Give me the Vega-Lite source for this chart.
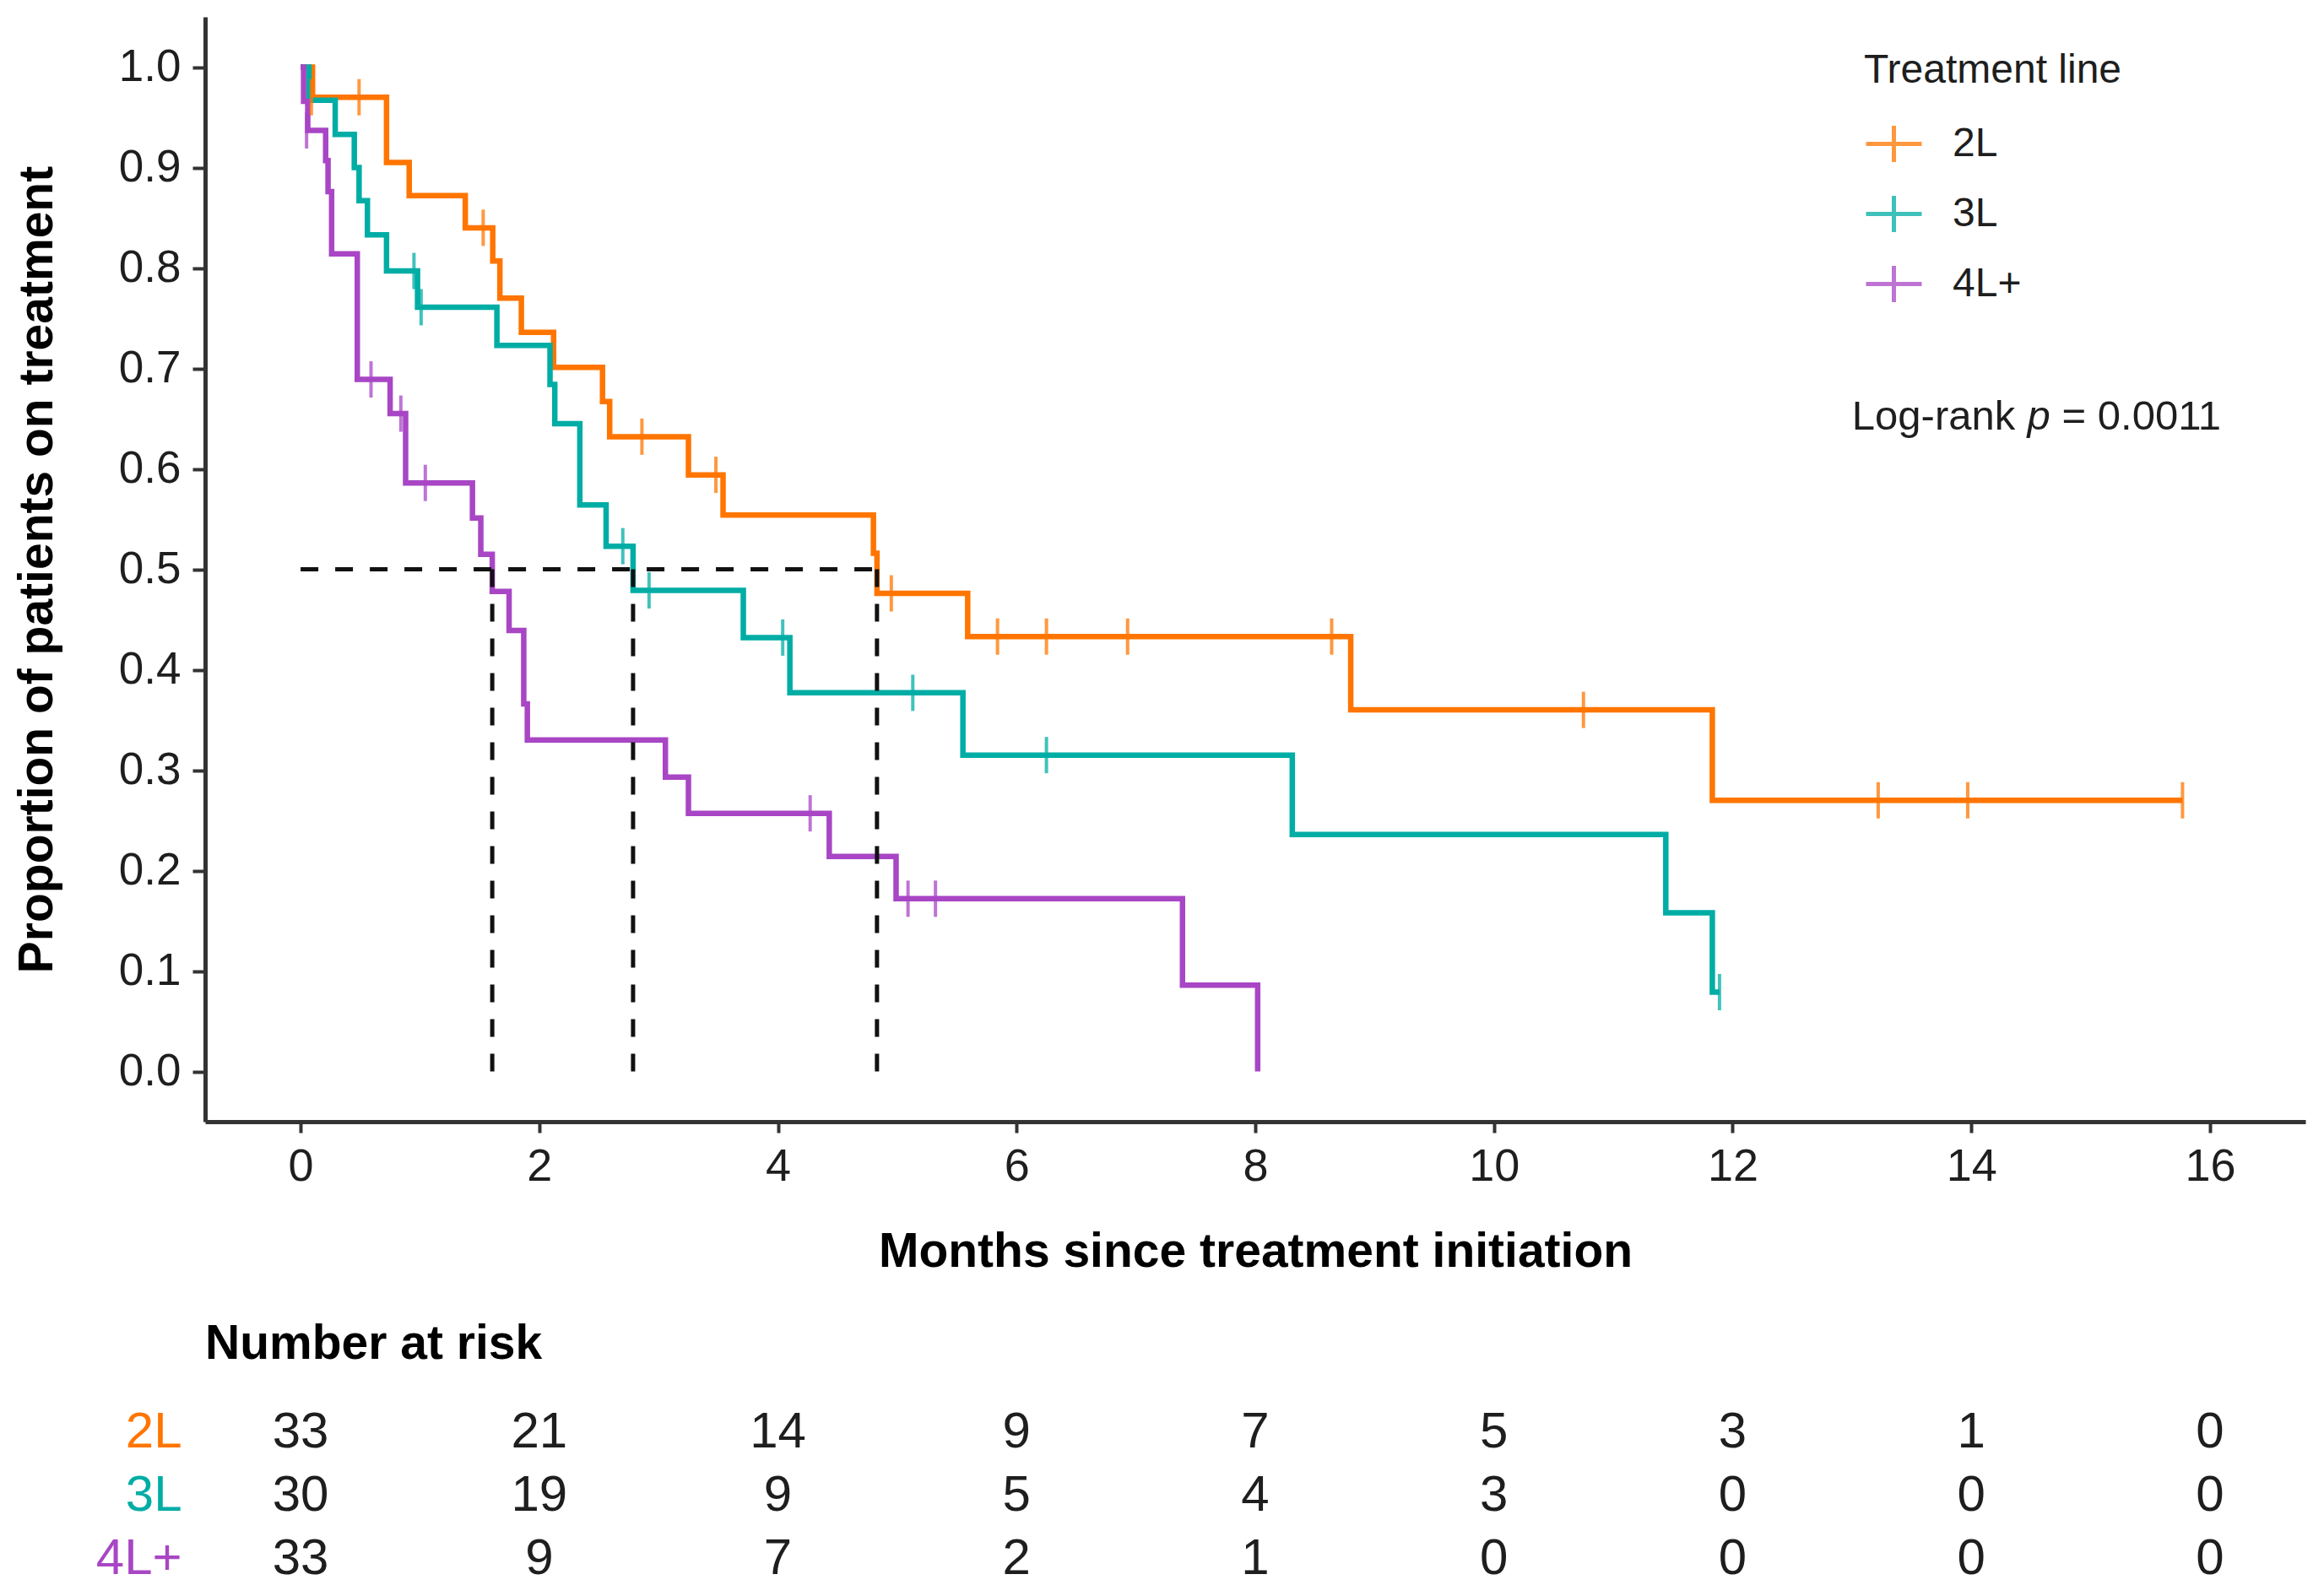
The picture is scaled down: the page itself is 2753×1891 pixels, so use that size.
{
  "$schema": "https://vega.github.io/schema/vega-lite/v6.json",
  "background": "white",
  "padding": {"left": 15, "top": 20, "right": 5, "bottom": 5},
  "bounds": "flush",
  "spacing": 330,
  "config": {
    "font": "Liberation Sans",
    "view": {"stroke": null},
    "axis": {"grid": false}
  },
  "datasets": {
    "km": [
      {"line": "2L", "t": 0, "s": 1},
      {"line": "2L", "t": 0.10, "s": 0.970},
      {"line": "2L", "t": 0.72, "s": 0.905},
      {"line": "2L", "t": 0.91, "s": 0.872},
      {"line": "2L", "t": 1.38, "s": 0.840},
      {"line": "2L", "t": 1.61, "s": 0.807},
      {"line": "2L", "t": 1.67, "s": 0.770},
      {"line": "2L", "t": 1.85, "s": 0.736},
      {"line": "2L", "t": 2.12, "s": 0.701},
      {"line": "2L", "t": 2.53, "s": 0.667},
      {"line": "2L", "t": 2.59, "s": 0.632},
      {"line": "2L", "t": 3.25, "s": 0.594},
      {"line": "2L", "t": 3.54, "s": 0.554},
      {"line": "2L", "t": 4.80, "s": 0.516},
      {"line": "2L", "t": 4.83, "s": 0.476},
      {"line": "2L", "t": 5.59, "s": 0.433},
      {"line": "2L", "t": 8.80, "s": 0.360},
      {"line": "2L", "t": 11.83, "s": 0.270},
      {"line": "2L", "t": 15.77, "s": 0.270},
      {"line": "3L", "t": 0, "s": 1},
      {"line": "3L", "t": 0.07, "s": 0.967},
      {"line": "3L", "t": 0.29, "s": 0.933},
      {"line": "3L", "t": 0.45, "s": 0.900},
      {"line": "3L", "t": 0.49, "s": 0.867},
      {"line": "3L", "t": 0.56, "s": 0.833},
      {"line": "3L", "t": 0.72, "s": 0.797},
      {"line": "3L", "t": 0.98, "s": 0.761},
      {"line": "3L", "t": 1.645, "s": 0.723},
      {"line": "3L", "t": 2.09, "s": 0.684},
      {"line": "3L", "t": 2.13, "s": 0.645},
      {"line": "3L", "t": 2.34, "s": 0.564},
      {"line": "3L", "t": 2.56, "s": 0.523},
      {"line": "3L", "t": 2.786, "s": 0.479},
      {"line": "3L", "t": 3.71, "s": 0.432},
      {"line": "3L", "t": 4.10, "s": 0.377},
      {"line": "3L", "t": 5.55, "s": 0.315},
      {"line": "3L", "t": 8.31, "s": 0.236},
      {"line": "3L", "t": 11.44, "s": 0.158},
      {"line": "3L", "t": 11.83, "s": 0.079},
      {"line": "3L", "t": 11.89, "s": 0.079},
      {"line": "4L+", "t": 0, "s": 1},
      {"line": "4L+", "t": 0.025, "s": 0.966},
      {"line": "4L+", "t": 0.06, "s": 0.937},
      {"line": "4L+", "t": 0.21, "s": 0.907},
      {"line": "4L+", "t": 0.23, "s": 0.876},
      {"line": "4L+", "t": 0.26, "s": 0.814},
      {"line": "4L+", "t": 0.475, "s": 0.689},
      {"line": "4L+", "t": 0.75, "s": 0.655},
      {"line": "4L+", "t": 0.88, "s": 0.586},
      {"line": "4L+", "t": 1.44, "s": 0.551},
      {"line": "4L+", "t": 1.51, "s": 0.515},
      {"line": "4L+", "t": 1.606, "s": 0.478},
      {"line": "4L+", "t": 1.747, "s": 0.439},
      {"line": "4L+", "t": 1.87, "s": 0.366},
      {"line": "4L+", "t": 1.90, "s": 0.330},
      {"line": "4L+", "t": 3.057, "s": 0.293},
      {"line": "4L+", "t": 3.25, "s": 0.257},
      {"line": "4L+", "t": 4.43, "s": 0.214},
      {"line": "4L+", "t": 4.99, "s": 0.172},
      {"line": "4L+", "t": 7.39, "s": 0.086},
      {"line": "4L+", "t": 8.02, "s": 0}
    ],
    "censor": [
      {"line": "2L", "t": 0.09, "s": 0.970},
      {"line": "2L", "t": 0.49, "s": 0.970},
      {"line": "2L", "t": 1.53, "s": 0.840},
      {"line": "2L", "t": 2.86, "s": 0.632},
      {"line": "2L", "t": 3.48, "s": 0.594},
      {"line": "2L", "t": 4.95, "s": 0.476},
      {"line": "2L", "t": 5.84, "s": 0.433},
      {"line": "2L", "t": 6.25, "s": 0.433},
      {"line": "2L", "t": 6.93, "s": 0.433},
      {"line": "2L", "t": 8.64, "s": 0.433},
      {"line": "2L", "t": 10.75, "s": 0.360},
      {"line": "2L", "t": 13.22, "s": 0.270},
      {"line": "2L", "t": 13.97, "s": 0.270},
      {"line": "2L", "t": 15.77, "s": 0.270},
      {"line": "3L", "t": 0.95, "s": 0.797},
      {"line": "3L", "t": 1.01, "s": 0.761},
      {"line": "3L", "t": 2.70, "s": 0.523},
      {"line": "3L", "t": 2.92, "s": 0.479},
      {"line": "3L", "t": 4.04, "s": 0.432},
      {"line": "3L", "t": 5.13, "s": 0.377},
      {"line": "3L", "t": 6.25, "s": 0.315},
      {"line": "3L", "t": 11.89, "s": 0.079},
      {"line": "4L+", "t": 0.05, "s": 0.937},
      {"line": "4L+", "t": 0.59, "s": 0.689},
      {"line": "4L+", "t": 0.84, "s": 0.655},
      {"line": "4L+", "t": 1.045, "s": 0.586},
      {"line": "4L+", "t": 4.27, "s": 0.257},
      {"line": "4L+", "t": 5.09, "s": 0.172},
      {"line": "4L+", "t": 5.32, "s": 0.172}
    ],
    "medianlines": [
      {"seg": "h", "t": 0, "s": 0.5},
      {"seg": "h", "t": 4.83, "s": 0.5},
      {"seg": "4L+", "t": 1.606, "s": 0.5},
      {"seg": "4L+", "t": 1.606, "s": 0},
      {"seg": "3L", "t": 2.786, "s": 0.5},
      {"seg": "3L", "t": 2.786, "s": 0},
      {"seg": "2L", "t": 4.83, "s": 0.5},
      {"seg": "2L", "t": 4.83, "s": 0}
    ],
    "annot": [
      {"label": "Log-rank", "t": 13.0, "s": 0.639, "italic": false},
      {"label": "p", "t": 14.47, "s": 0.639, "italic": true},
      {"label": "= 0.0011", "t": 14.76, "s": 0.639, "italic": false}
    ],
    "rows": [
      {"line": "2L", "t": -0.994}, {"line": "3L", "t": -0.994}, {"line": "4L+", "t": -0.994}
    ],
    "risk": [
      {"line": "2L", "t": 0, "n": 33}, {"line": "2L", "t": 2, "n": 21}, {"line": "2L", "t": 4, "n": 14},
      {"line": "2L", "t": 6, "n": 9}, {"line": "2L", "t": 8, "n": 7}, {"line": "2L", "t": 10, "n": 5},
      {"line": "2L", "t": 12, "n": 3}, {"line": "2L", "t": 14, "n": 1}, {"line": "2L", "t": 16, "n": 0},
      {"line": "3L", "t": 0, "n": 30}, {"line": "3L", "t": 2, "n": 19}, {"line": "3L", "t": 4, "n": 9},
      {"line": "3L", "t": 6, "n": 5}, {"line": "3L", "t": 8, "n": 4}, {"line": "3L", "t": 10, "n": 3},
      {"line": "3L", "t": 12, "n": 0}, {"line": "3L", "t": 14, "n": 0}, {"line": "3L", "t": 16, "n": 0},
      {"line": "4L+", "t": 0, "n": 33}, {"line": "4L+", "t": 2, "n": 9}, {"line": "4L+", "t": 4, "n": 7},
      {"line": "4L+", "t": 6, "n": 2}, {"line": "4L+", "t": 8, "n": 1}, {"line": "4L+", "t": 10, "n": 0},
      {"line": "4L+", "t": 12, "n": 0}, {"line": "4L+", "t": 14, "n": 0}, {"line": "4L+", "t": 16, "n": 0}
    ]
  },
  "vconcat": [
    {
      "width": 2488,
      "height": 1309,
      "layer": [
        {
          "data": {"name": "km"},
          "mark": {"type": "line", "interpolate": "step-after", "strokeWidth": 6.5},
          "encoding": {
            "x": {
              "field": "t", "type": "quantitative",
              "scale": {"domain": [-0.8, 16.8], "nice": false, "zero": false},
              "axis": {
                "values": [0, 2, 4, 6, 8, 10, 12, 14, 16],
                "format": "d",
                "title": "Months since treatment initiation",
                "titleFontSize": 57, "titleFontWeight": "bold", "titleColor": "#000000",
                "titleBaseline": "alphabetic", "titlePadding": 91,
                "labelFontSize": 54, "labelColor": "#1e1e1e", "labelPadding": 13, "labelFlush": false,
                "domainWidth": 5, "domainColor": "#333333",
                "tickWidth": 4, "tickSize": 13, "tickColor": "#333333"
              }
            },
            "y": {
              "field": "s", "type": "quantitative",
              "scale": {"domain": [-0.05, 1.05], "nice": false, "zero": false},
              "axis": {
                "values": [0, 0.1, 0.2, 0.3, 0.4, 0.5, 0.6, 0.7, 0.8, 0.9, 1.0],
                "format": ".1f",
                "title": "Proportion of patients on treatment",
                "titleFontSize": 57, "titleFontWeight": "bold", "titleColor": "#000000",
                "titleBaseline": "alphabetic", "titlePadding": 79,
                "labelFontSize": 53, "labelColor": "#1e1e1e", "labelPadding": 14,
                "domainWidth": 5, "domainColor": "#333333",
                "tickWidth": 4, "tickSize": 15, "tickColor": "#333333"
              }
            },
            "color": {
              "field": "line", "type": "nominal",
              "scale": {"domain": ["2L", "3L", "4L+"], "range": ["#FF7500", "#00ADA5", "#A846C5"]},
              "legend": {
                "orient": "none", "legendX": 1965, "legendY": 40,
                "title": "Treatment line", "titleLimit": 1000, "labelLimit": 1000,
                "titleFontSize": 48, "titleFontWeight": "normal", "titleColor": "#1e1e1e", "titlePadding": 27,
                "labelFontSize": 48, "labelColor": "#1e1e1e", "labelOffset": 34,
                "symbolType": "M-1,0L1,0M0,-0.65L0,0.65", "symbolSize": 4356, "symbolStrokeWidth": 5,
                "rowPadding": 16
              }
            }
          }
        },
        {
          "data": {"name": "censor"},
          "mark": {"type": "tick", "orient": "vertical", "size": 43, "thickness": 4, "opacity": 0.75},
          "encoding": {
            "x": {"field": "t", "type": "quantitative"},
            "y": {"field": "s", "type": "quantitative"},
            "color": {"field": "line", "type": "nominal"}
          }
        },
        {
          "data": {"name": "medianlines"},
          "mark": {"type": "line", "strokeDash": [21, 20], "strokeWidth": 5, "color": "#111111"},
          "encoding": {
            "x": {"field": "t", "type": "quantitative"},
            "y": {"field": "s", "type": "quantitative"},
            "detail": {"field": "seg", "type": "nominal"}
          }
        },
        {
          "data": {"name": "annot"},
          "transform": [{"filter": "!datum.italic"}],
          "mark": {"type": "text", "align": "left", "baseline": "alphabetic", "fontSize": 49, "color": "#1e1e1e"},
          "encoding": {
            "x": {"field": "t", "type": "quantitative"},
            "y": {"field": "s", "type": "quantitative"},
            "text": {"field": "label", "type": "nominal"}
          }
        },
        {
          "data": {"name": "annot"},
          "transform": [{"filter": "datum.italic"}],
          "mark": {"type": "text", "align": "left", "baseline": "alphabetic", "fontSize": 49, "fontStyle": "italic", "color": "#1e1e1e"},
          "encoding": {
            "x": {"field": "t", "type": "quantitative"},
            "y": {"field": "s", "type": "quantitative"},
            "text": {"field": "label", "type": "nominal"}
          }
        }
      ]
    },
    {
      "width": 2488,
      "height": 225,
      "title": {
        "text": "Number at risk", "anchor": "start", "frame": "group",
        "fontSize": 57, "fontWeight": "bold", "color": "#000000",
        "baseline": "alphabetic", "offset": -8
      },
      "layer": [
        {
          "data": {"name": "risk"},
          "mark": {"type": "text", "fontSize": 60, "baseline": "middle", "align": "center", "color": "#1e1e1e"},
          "encoding": {
            "x": {
              "field": "t", "type": "quantitative",
              "scale": {"domain": [-0.8, 16.8], "nice": false, "zero": false},
              "axis": null
            },
            "y": {
              "field": "line", "type": "nominal",
              "scale": {"type": "point", "domain": ["2L", "3L", "4L+"], "padding": 0.5},
              "axis": null
            },
            "text": {"field": "n", "type": "quantitative"}
          }
        },
        {
          "data": {"name": "rows"},
          "mark": {"type": "text", "fontSize": 60, "baseline": "middle", "align": "right"},
          "encoding": {
            "x": {"field": "t", "type": "quantitative"},
            "y": {"field": "line", "type": "nominal"},
            "text": {"field": "line", "type": "nominal"},
            "color": {
              "field": "line", "type": "nominal",
              "scale": {"domain": ["2L", "3L", "4L+"], "range": ["#FF7500", "#00ADA5", "#A846C5"]},
              "legend": null
            }
          }
        }
      ]
    }
  ]
}
